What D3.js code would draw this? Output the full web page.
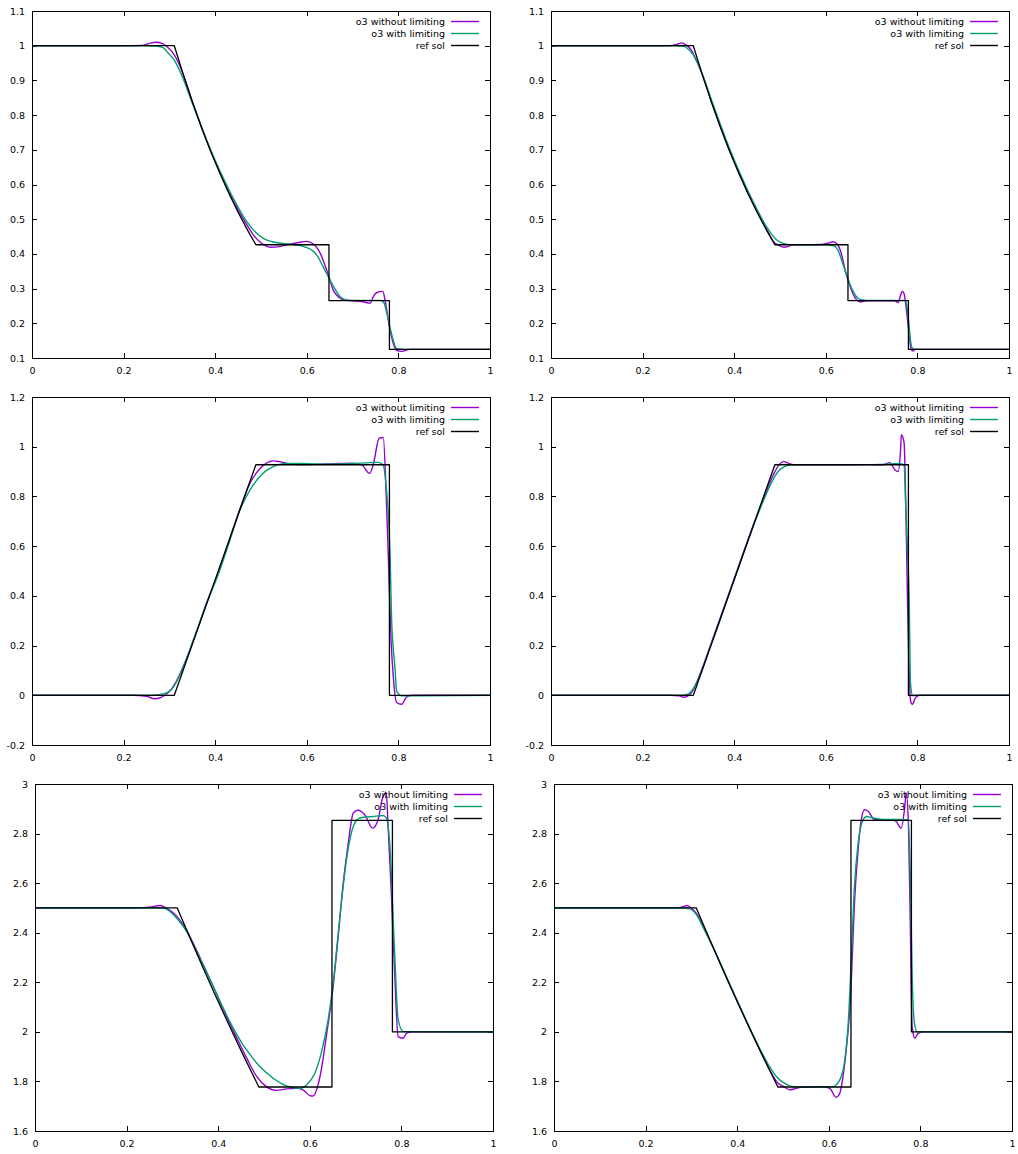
<!DOCTYPE html>
<html>
<head>
<meta charset="utf-8">
<script src="https://cdn.jsdelivr.net/npm/d3@7"></script>
<style>
  body { margin: 0; background: #fff; }
  svg { display: block; font-family: "DejaVu Sans", sans-serif; }
</style>
</head>
<body>
<svg id="chart" width="1018" height="1154"></svg>
<script>
// ── data ──
const seriesNames = ["o3 without limiting", "o3 with limiting", "ref sol"];
const seriesColors = ["#9400d3", "#009e73", "#000000"];

const xTicks = [0, 0.2, 0.4, 0.6, 0.8, 1];
const rhoTicks = [0.1, 0.2, 0.3, 0.4, 0.5, 0.6, 0.7, 0.8, 0.9, 1, 1.1];
const uTicks = [-0.2, 0, 0.2, 0.4, 0.6, 0.8, 1, 1.2];
const eTicks = [1.6, 1.8, 2, 2.2, 2.4, 2.6, 2.8, 3];

// reference solution
const refX = [0, 0.3107, 0.33, 0.35, 0.37, 0.39, 0.41, 0.43, 0.45, 0.47, 0.4888, 0.6484, 0.6484, 0.7804, 0.7804, 1];
const refRho = [1, 1, 0.918, 0.8385, 0.765, 0.696, 0.633, 0.574, 0.52, 0.47, 0.4263, 0.4263, 0.2656, 0.2656, 0.125, 0.125];
const refU = [0, 0, 0.1006, 0.2048, 0.3089, 0.4131, 0.5173, 0.6214, 0.7256, 0.8298, 0.9274, 0.9274, 0.9274, 0.9274, 0, 0];
const refE = [2.5, 2.5, 2.4157, 2.33, 2.2458, 2.163, 2.082, 2.0024, 1.9243, 1.8478, 1.7775, 1.7775, 2.8535, 2.8535, 2, 2];

// density, coarse grid
const rhoCoarseRawX = [0, 0.2, 0.24, 0.255, 0.27, 0.285, 0.295, 0.31, 0.32, 0.33, 0.35, 0.37, 0.39, 0.41, 0.43, 0.45, 0.47, 0.485, 0.5, 0.52, 0.54, 0.56, 0.58, 0.6, 0.615, 0.63, 0.647, 0.658, 0.67, 0.68, 0.7, 0.72, 0.738, 0.745, 0.752, 0.766, 0.771, 0.778, 0.785, 0.796, 0.807, 0.825, 1];
const rhoCoarseRawY = [1, 1, 1.001, 1.006, 1.01, 1.006, 0.997, 0.975, 0.95, 0.918, 0.84, 0.766, 0.698, 0.636, 0.578, 0.527, 0.482, 0.452, 0.432, 0.419, 0.421, 0.427, 0.432, 0.436, 0.428, 0.4, 0.339, 0.295, 0.275, 0.268, 0.265, 0.263, 0.258, 0.276, 0.288, 0.292, 0.266, 0.209, 0.161, 0.122, 0.119, 0.125, 0.125];
const rhoCoarseLimX = [0, 0.25, 0.27, 0.285, 0.3, 0.31, 0.32, 0.33, 0.35, 0.37, 0.39, 0.41, 0.43, 0.45, 0.468, 0.49, 0.505, 0.525, 0.548, 0.57, 0.585, 0.6, 0.614, 0.625, 0.636, 0.651, 0.662, 0.672, 0.684, 0.694, 0.72, 0.76, 0.768, 0.775, 0.785, 0.796, 0.81, 1];
const rhoCoarseLimY = [1, 1, 0.999, 0.995, 0.975, 0.96, 0.935, 0.905, 0.835, 0.765, 0.7, 0.64, 0.585, 0.535, 0.495, 0.46, 0.445, 0.435, 0.43, 0.427, 0.424, 0.418, 0.408, 0.39, 0.362, 0.324, 0.298, 0.278, 0.268, 0.266, 0.266, 0.266, 0.26, 0.228, 0.17, 0.127, 0.125, 0.125];

// density, fine grid
const rhoFineRawX = [0, 0.26, 0.275, 0.285, 0.295, 0.305, 0.315, 0.33, 0.35, 0.37, 0.39, 0.41, 0.43, 0.45, 0.47, 0.488, 0.499, 0.507, 0.514, 0.522, 0.53, 0.59, 0.605, 0.616, 0.625, 0.633, 0.644, 0.652, 0.659, 0.667, 0.675, 0.69, 0.75, 0.758, 0.763, 0.767, 0.771, 0.776, 0.782, 0.786, 0.79, 0.795, 1];
const rhoFineRawY = [1, 1, 1.004, 1.008, 1.002, 0.99, 0.965, 0.918, 0.84, 0.766, 0.697, 0.634, 0.576, 0.522, 0.473, 0.432, 0.424, 0.42, 0.42, 0.424, 0.426, 0.427, 0.431, 0.435, 0.428, 0.405, 0.343, 0.31, 0.286, 0.268, 0.262, 0.265, 0.265, 0.26, 0.28, 0.292, 0.285, 0.238, 0.17, 0.127, 0.12, 0.125, 0.125];
const rhoFineLimX = [0, 0.27, 0.29, 0.3, 0.31, 0.32, 0.33, 0.35, 0.37, 0.39, 0.41, 0.43, 0.45, 0.47, 0.48, 0.491, 0.502, 0.513, 0.525, 0.6, 0.615, 0.623, 0.63, 0.637, 0.645, 0.652, 0.659, 0.666, 0.673, 0.68, 0.69, 0.772, 0.776, 0.779, 0.782, 0.785, 0.789, 0.795, 1];
const rhoFineLimY = [1, 1, 0.998, 0.99, 0.975, 0.95, 0.92, 0.845, 0.772, 0.703, 0.64, 0.582, 0.528, 0.479, 0.46, 0.442, 0.433, 0.428, 0.426, 0.426, 0.424, 0.418, 0.4, 0.372, 0.342, 0.315, 0.294, 0.278, 0.27, 0.267, 0.266, 0.266, 0.258, 0.23, 0.19, 0.15, 0.128, 0.125, 0.125];

// velocity, coarse grid
const uCoarseRawX = [0, 0.22, 0.25, 0.268, 0.28, 0.29, 0.3, 0.31, 0.33, 0.352, 0.381, 0.41, 0.432, 0.454, 0.476, 0.49, 0.505, 0.516, 0.527, 0.54, 0.555, 0.58, 0.62, 0.66, 0.7, 0.72, 0.737, 0.745, 0.758, 0.767, 0.773, 0.778, 0.784, 0.789, 0.796, 0.807, 0.818, 0.83, 1];
const uCoarseRawY = [0, 0, -0.004, -0.014, -0.01, 0, 0.015, 0.04, 0.115, 0.22, 0.37, 0.51, 0.63, 0.75, 0.853, 0.895, 0.925, 0.938, 0.943, 0.94, 0.934, 0.928, 0.929, 0.932, 0.934, 0.927, 0.893, 0.927, 1.034, 1.037, 0.826, 0.556, 0.22, 0.072, -0.029, -0.036, -0.006, 0, 0];
const uCoarseLimX = [0, 0.24, 0.27, 0.286, 0.308, 0.33, 0.352, 0.381, 0.41, 0.432, 0.454, 0.476, 0.497, 0.512, 0.527, 0.556, 0.6, 0.65, 0.7, 0.738, 0.756, 0.767, 0.774, 0.778, 0.782, 0.785, 0.793, 0.796, 0.807, 1];
const uCoarseLimY = [0, 0, 0.001, 0.005, 0.031, 0.112, 0.22, 0.368, 0.503, 0.624, 0.745, 0.826, 0.879, 0.905, 0.92, 0.933, 0.932, 0.93, 0.932, 0.936, 0.937, 0.926, 0.826, 0.73, 0.556, 0.314, 0.099, 0.018, -0.002, 0];

// velocity, fine grid
const uFineRawX = [0, 0.26, 0.28, 0.29, 0.3, 0.31, 0.32, 0.35, 0.4, 0.45, 0.47, 0.485, 0.497, 0.508, 0.52, 0.535, 0.6, 0.7, 0.725, 0.74, 0.751, 0.758, 0.763, 0.765, 0.771, 0.774, 0.778, 0.781, 0.785, 0.789, 0.796, 0.805, 1];
const uFineRawY = [0, 0, -0.002, -0.008, -0.002, 0.02, 0.06, 0.21, 0.47, 0.725, 0.82, 0.885, 0.925, 0.94, 0.932, 0.927, 0.927, 0.928, 0.927, 0.936, 0.906, 0.9, 0.98, 1.048, 1.014, 0.826, 0.422, 0.166, -0.022, -0.036, -0.009, 0, 0];
const uFineLimX = [0, 0.27, 0.29, 0.3, 0.31, 0.32, 0.35, 0.4, 0.45, 0.47, 0.48, 0.49, 0.5, 0.51, 0.525, 0.55, 0.7, 0.74, 0.761, 0.771, 0.774, 0.778, 0.782, 0.785, 0.79, 0.795, 1];
const uFineLimY = [0, 0, 0.001, 0.006, 0.025, 0.058, 0.205, 0.465, 0.72, 0.81, 0.85, 0.885, 0.908, 0.92, 0.927, 0.928, 0.928, 0.93, 0.933, 0.927, 0.786, 0.6, 0.395, 0.045, -0.002, 0, 0];

// internal energy, coarse grid
const eCoarseRawX = [0, 0.22, 0.25, 0.273, 0.287, 0.309, 0.331, 0.35, 0.37, 0.39, 0.41, 0.43, 0.45, 0.462, 0.484, 0.505, 0.527, 0.549, 0.571, 0.585, 0.6, 0.607, 0.618, 0.625, 0.636, 0.651, 0.662, 0.673, 0.684, 0.695, 0.705, 0.72, 0.737, 0.749, 0.76, 0.767, 0.771, 0.778, 0.785, 0.793, 0.804, 0.811, 0.825, 1];
const eCoarseRawY = [2.5, 2.5, 2.503, 2.51, 2.499, 2.468, 2.41, 2.34, 2.26, 2.18, 2.095, 2.015, 1.94, 1.895, 1.82, 1.779, 1.764, 1.77, 1.772, 1.766, 1.743, 1.741, 1.786, 1.846, 1.981, 2.183, 2.385, 2.6, 2.762, 2.883, 2.894, 2.876, 2.822, 2.856, 2.95, 2.964, 2.829, 2.56, 2.25, 1.981, 1.974, 1.994, 2, 2];
const eCoarseLimX = [0, 0.28, 0.287, 0.309, 0.331, 0.35, 0.37, 0.39, 0.41, 0.43, 0.45, 0.462, 0.491, 0.52, 0.549, 0.578, 0.593, 0.611, 0.625, 0.64, 0.651, 0.665, 0.68, 0.695, 0.709, 0.738, 0.76, 0.767, 0.775, 0.785, 0.793, 0.804, 1];
const eCoarseLimY = [2.5, 2.5, 2.495, 2.459, 2.405, 2.335, 2.258, 2.18, 2.1, 2.025, 1.96, 1.927, 1.86, 1.813, 1.782, 1.772, 1.786, 1.833, 1.914, 2.048, 2.196, 2.452, 2.694, 2.829, 2.863, 2.869, 2.873, 2.863, 2.748, 2.331, 2.048, 2.001, 2];

// internal energy, fine grid
const eFineRawX = [0, 0.27, 0.282, 0.29, 0.3, 0.31, 0.33, 0.35, 0.4, 0.45, 0.47, 0.488, 0.5, 0.515, 0.529, 0.545, 0.587, 0.602, 0.616, 0.624, 0.631, 0.638, 0.648, 0.656, 0.664, 0.671, 0.678, 0.686, 0.7, 0.74, 0.747, 0.758, 0.766, 0.769, 0.774, 0.778, 0.782, 0.788, 0.795, 0.81, 1];
const eFineRawY = [2.5, 2.5, 2.505, 2.51, 2.5, 2.48, 2.41, 2.33, 2.125, 1.925, 1.85, 1.795, 1.781, 1.766, 1.772, 1.778, 1.779, 1.772, 1.736, 1.752, 1.819, 1.927, 2.156, 2.519, 2.735, 2.856, 2.896, 2.89, 2.856, 2.856, 2.849, 2.822, 2.91, 2.964, 2.829, 2.425, 2.021, 1.974, 1.994, 2, 2];
const eFineLimX = [0, 0.28, 0.295, 0.31, 0.33, 0.35, 0.4, 0.45, 0.47, 0.488, 0.5, 0.522, 0.54, 0.609, 0.624, 0.635, 0.642, 0.649, 0.656, 0.664, 0.675, 0.682, 0.697, 0.72, 0.773, 0.778, 0.782, 0.787, 0.793, 1];
const eFineLimY = [2.5, 2.5, 2.497, 2.475, 2.405, 2.33, 2.125, 1.93, 1.862, 1.815, 1.796, 1.779, 1.777, 1.779, 1.806, 1.887, 2.021, 2.291, 2.587, 2.762, 2.856, 2.869, 2.863, 2.857, 2.856, 2.627, 2.223, 2.035, 2, 2];

// ── layout ──
const panels = [
  { box: [32, 490, 11, 358], yDomain: [0.1, 1.1], yTicks: rhoTicks,
    series: [[rhoCoarseRawX, rhoCoarseRawY], [rhoCoarseLimX, rhoCoarseLimY], [refX, refRho]] },
  { box: [551, 1009, 11, 358], yDomain: [0.1, 1.1], yTicks: rhoTicks,
    series: [[rhoFineRawX, rhoFineRawY], [rhoFineLimX, rhoFineLimY], [refX, refRho]] },
  { box: [32, 490, 397, 745], yDomain: [-0.2, 1.2], yTicks: uTicks,
    series: [[uCoarseRawX, uCoarseRawY], [uCoarseLimX, uCoarseLimY], [refX, refU]] },
  { box: [551, 1009, 397, 745], yDomain: [-0.2, 1.2], yTicks: uTicks,
    series: [[uFineRawX, uFineRawY], [uFineLimX, uFineLimY], [refX, refU]] },
  { box: [35, 493, 784, 1131], yDomain: [1.6, 3], yTicks: eTicks,
    series: [[eCoarseRawX, eCoarseRawY], [eCoarseLimX, eCoarseLimY], [refX, refE]] },
  { box: [554, 1012, 784, 1131], yDomain: [1.6, 3], yTicks: eTicks,
    series: [[eFineRawX, eFineRawY], [eFineLimX, eFineLimY], [refX, refE]] },
];

const svg = d3.select("#chart");
svg.append("rect").attr("width", 1018).attr("height", 1154).attr("fill", "#fff");

const fmtTick = (d) => String(Math.round(d * 10) / 10);
const FONT = 9.5;

function styleAxis(sel) {
  sel.select(".domain").remove();
  sel.attr("font-size", FONT).attr("font-family", '"DejaVu Sans", sans-serif');
  sel.selectAll("line").attr("stroke", "#000").attr("shape-rendering", "crispEdges");
  sel.selectAll("text").attr("fill", "#000");
}

panels.forEach((p, i) => {
  const [l, r, t, b] = p.box;
  const x = d3.scaleLinear().domain([0, 1]).range([l, r]);
  const y = d3.scaleLinear().domain(p.yDomain).range([b, t]);
  const g = svg.append("g");

  // ticks on all four sides, pointing inward
  g.append("g")
    .attr("transform", `translate(0,${b})`)
    .call(d3.axisBottom(x).tickValues(xTicks).tickSizeInner(-5).tickSizeOuter(0).tickPadding(9).tickFormat(fmtTick))
    .call(styleAxis);
  g.append("g")
    .attr("transform", `translate(0,${t})`)
    .call(d3.axisTop(x).tickValues(xTicks).tickSizeInner(-5).tickSizeOuter(0).tickFormat(""))
    .call(styleAxis);
  g.append("g")
    .attr("transform", `translate(${l},0)`)
    .call(d3.axisLeft(y).tickValues(p.yTicks).tickSizeInner(-5).tickSizeOuter(0).tickPadding(7).tickFormat(fmtTick))
    .call(styleAxis);
  g.append("g")
    .attr("transform", `translate(${r},0)`)
    .call(d3.axisRight(y).tickValues(p.yTicks).tickSizeInner(-5).tickSizeOuter(0).tickFormat(""))
    .call(styleAxis);

  const clipId = `clip${i}`;
  g.append("clipPath").attr("id", clipId)
    .append("rect").attr("x", l).attr("y", t).attr("width", r - l).attr("height", b - t);

  const plot = g.append("g").attr("clip-path", `url(#${clipId})`);
  p.series.forEach(([xs, ys], k) => {
    const pts = xs.map((v, j) => [v, ys[j]]);
    const line = d3.line()
      .x((d) => x(d[0]))
      .y((d) => y(d[1]))
      .curve(k === 2 ? d3.curveLinear : d3.curveMonotoneX);
    plot.append("path")
      .datum(pts)
      .attr("d", line)
      .attr("fill", "none")
      .attr("stroke", seriesColors[k])
      .attr("stroke-width", k === 2 ? 1.3 : 1.4)
      .attr("stroke-linejoin", "round");
  });

  // frame
  g.append("rect")
    .attr("x", l).attr("y", t)
    .attr("width", r - l).attr("height", b - t)
    .attr("fill", "none")
    .attr("stroke", "#000")
    .attr("stroke-width", 1)
    .attr("shape-rendering", "crispEdges");

  // key
  const key = g.append("g");
  seriesNames.forEach((name, k) => {
    const yy = t + 10.5 + k * 12;
    key.append("text")
      .attr("x", r - 45)
      .attr("y", yy)
      .attr("dy", "0.35em")
      .attr("text-anchor", "end")
      .attr("font-size", FONT)
      .attr("fill", "#000")
      .text(name);
    key.append("line")
      .attr("x1", r - 39).attr("x2", r - 11)
      .attr("y1", yy).attr("y2", yy)
      .attr("stroke", seriesColors[k])
      .attr("stroke-width", 1.4);
  });
});
</script>
</body>
</html>
